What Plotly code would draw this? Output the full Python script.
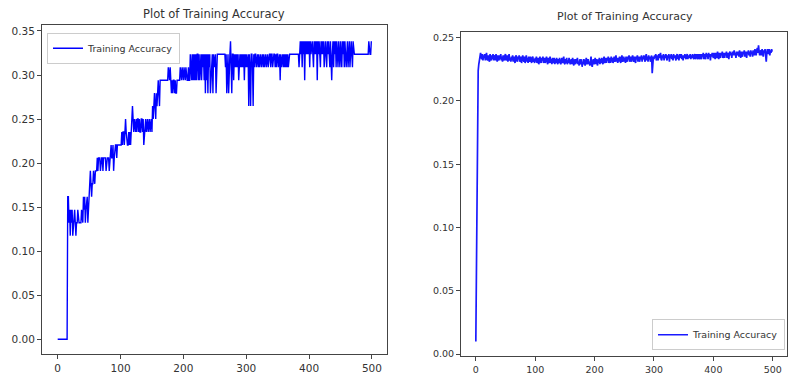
import plotly.graph_objects as go

# Left panel: training accuracy expressed as correct counts out of 68 samples, per epoch (0..499)
left_total = 68
left_counts = [
    0,0,0,0,0,0,0,0,0,0,0,0,0,0,0,0,11,11,9,10,
    8,10,9,10,8,9,10,10,9,8,9,9,10,9,9,9,9,9,10,9,
    9,11,10,11,9,10,11,11,9,10,12,12,13,12,11,12,12,13,12,12,
    13,13,13,14,13,14,14,14,13,14,14,14,13,14,14,14,14,13,14,14,
    14,14,13,14,14,15,14,14,15,13,14,15,15,15,14,15,15,15,15,15,
    15,15,16,15,16,16,15,16,17,16,15,15,15,16,15,16,15,16,16,18,
    17,16,17,16,16,17,16,17,17,16,17,16,16,17,17,16,17,15,16,17,
    17,16,17,17,16,17,17,16,17,17,16,18,17,18,19,18,17,19,18,19,
    20,19,18,20,20,20,20,20,20,20,20,20,20,20,20,20,21,20,20,21,
    20,19,20,19,20,20,19,20,19,19,20,20,20,20,20,21,20,20,21,20,
    20,21,20,20,21,20,20,20,21,20,20,22,20,20,22,20,22,20,22,20,
    22,20,22,22,20,22,20,21,22,20,22,21,22,20,22,19,22,20,22,19,
    22,21,22,19,20,22,22,19,22,21,22,22,19,22,22,22,22,22,22,22,
    22,22,22,22,22,22,22,21,22,19,22,22,19,22,22,23,21,19,22,22,
    20,22,21,22,21,22,21,22,20,21,22,21,22,21,22,21,22,20,22,21,
    22,21,22,22,18,22,21,18,22,22,21,18,22,21,22,22,21,22,22,21,
    22,21,22,22,21,22,22,21,22,21,22,22,21,22,22,21,22,22,22,21,
    22,22,21,22,22,22,21,22,21,22,22,21,22,22,20,22,21,22,22,21,
    22,21,22,21,22,21,22,21,22,22,22,22,22,22,22,22,22,22,22,22,
    22,22,22,22,21,22,23,22,23,21,23,22,23,20,23,22,23,22,23,22,
    23,21,23,22,23,23,22,21,23,22,23,22,23,20,23,22,23,22,21,23,
    22,23,22,23,21,22,23,22,21,23,22,23,22,21,23,22,20,22,23,21,
    23,22,23,21,23,22,21,23,22,21,23,22,21,23,22,23,21,23,22,21,
    22,23,21,22,23,21,22,23,22,21,23,22,22,22,22,22,22,22,22,22,
    22,22,22,22,22,22,22,22,22,22,22,22,22,22,22,23,22,22,22,23,
]
left_acc = [c / left_total for c in left_counts]

# Right panel: training accuracy per epoch (0..499)
right_acc = [
    0.010,0.080,0.150,0.205,0.224,0.229,0.233,0.236,0.238,0.235,0.233,0.237,0.232,0.236,0.234,0.237,0.232,0.235,0.238,0.233,
    0.232,0.236,0.234,0.231,0.237,0.234,0.232,0.236,0.233,0.237,0.232,0.235,0.236,0.232,0.237,0.234,0.231,0.236,0.234,0.232,
    0.236,0.233,0.237,0.232,0.235,0.231,0.236,0.234,0.232,0.236,0.237,0.232,0.234,0.236,0.231,0.235,0.237,0.232,0.234,0.231,
    0.235,0.232,0.236,0.231,0.235,0.233,0.230,0.235,0.236,0.232,0.231,0.235,0.233,0.236,0.231,0.233,0.235,0.230,0.233,0.236,
    0.233,0.231,0.235,0.230,0.233,0.236,0.231,0.234,0.230,0.235,0.233,0.231,0.235,0.233,0.230,0.234,0.235,0.231,0.233,0.230,
    0.234,0.231,0.235,0.230,0.232,0.234,0.229,0.232,0.235,0.231,0.230,0.234,0.232,0.235,0.230,0.232,0.234,0.230,0.232,0.235,
    0.232,0.229,0.234,0.230,0.232,0.235,0.230,0.233,0.229,0.234,0.230,0.232,0.234,0.229,0.233,0.230,0.234,0.232,0.229,0.233,
    0.230,0.234,0.232,0.229,0.231,0.234,0.230,0.232,0.235,0.230,0.229,0.233,0.230,0.234,0.229,0.232,0.230,0.234,0.232,0.229,
    0.231,0.233,0.229,0.234,0.230,0.228,0.233,0.230,0.229,0.233,0.230,0.234,0.229,0.231,0.228,0.233,0.230,0.229,0.233,0.227,
    0.231,0.229,0.233,0.230,0.228,0.231,0.234,0.229,0.231,0.233,0.229,0.231,0.228,0.233,0.235,0.229,0.227,0.231,0.233,0.229,
    0.231,0.234,0.229,0.233,0.230,0.228,0.233,0.230,0.234,0.229,0.233,0.230,0.234,0.232,0.229,0.233,0.235,0.230,0.232,0.234,
    0.230,0.234,0.232,0.235,0.230,0.232,0.234,0.230,0.235,0.231,0.234,0.230,0.232,0.235,0.231,0.233,0.236,0.231,0.234,0.230,
    0.234,0.231,0.235,0.233,0.230,0.234,0.236,0.231,0.233,0.235,0.231,0.234,0.230,0.235,0.233,0.231,0.235,0.233,0.236,0.231,
    0.233,0.235,0.231,0.234,0.236,0.233,0.231,0.235,0.233,0.230,0.235,0.233,0.236,0.231,0.235,0.233,0.231,0.235,0.233,0.236,
    0.231,0.235,0.233,0.236,0.233,0.231,0.235,0.237,0.232,0.235,0.231,0.236,0.233,0.235,0.231,0.233,0.236,0.222,0.231,0.235,
    0.233,0.236,0.234,0.237,0.232,0.235,0.236,0.232,0.237,0.234,0.236,0.238,0.233,0.232,0.236,0.234,0.237,0.232,0.236,0.234,
    0.237,0.233,0.232,0.236,0.234,0.237,0.231,0.236,0.234,0.237,0.233,0.236,0.232,0.237,0.234,0.236,0.233,0.232,0.236,0.237,
    0.233,0.236,0.232,0.237,0.234,0.236,0.237,0.233,0.236,0.232,0.236,0.234,0.237,0.235,0.233,0.236,0.237,0.233,0.236,0.234,
    0.236,0.237,0.233,0.236,0.234,0.237,0.235,0.233,0.236,0.237,0.233,0.236,0.237,0.234,0.233,0.237,0.235,0.233,0.237,0.235,
    0.233,0.237,0.235,0.238,0.233,0.237,0.235,0.233,0.238,0.235,0.237,0.233,0.238,0.235,0.237,0.232,0.237,0.235,0.238,0.236,
    0.234,0.238,0.236,0.233,0.238,0.236,0.234,0.239,0.236,0.233,0.238,0.236,0.234,0.238,0.236,0.239,0.234,0.236,0.238,0.234,
    0.238,0.236,0.239,0.234,0.238,0.236,0.233,0.238,0.239,0.236,0.238,0.234,0.239,0.236,0.238,0.240,0.236,0.238,0.234,0.239,
    0.236,0.239,0.237,0.235,0.240,0.237,0.234,0.239,0.237,0.235,0.239,0.237,0.240,0.235,0.239,0.237,0.234,0.239,0.237,0.240,
    0.236,0.239,0.235,0.240,0.237,0.239,0.235,0.240,0.238,0.236,0.241,0.238,0.236,0.240,0.242,0.238,0.244,0.239,0.236,0.239,
    0.240,0.236,0.241,0.238,0.235,0.240,0.238,0.241,0.236,0.231,0.238,0.241,0.239,0.237,0.241,0.236,0.240,0.238,0.241,0.239,
]

epochs_left = list(range(len(left_acc)))
epochs_right = list(range(len(right_acc)))

title_text = "Plot of Training Accuracy"
series_name = "Training Accuracy"
x_ticks = [0, 100, 200, 300, 400, 500]
left_y_ticks = [0.00, 0.05, 0.10, 0.15, 0.20, 0.25, 0.30, 0.35]
right_y_ticks = [0.00, 0.05, 0.10, 0.15, 0.20, 0.25]

W, H = 789, 385
FONT = "DejaVu Sans"
AXC = "#444444"
TXT = "#333333"

fig = go.Figure()
fig.add_trace(go.Scatter(x=epochs_left, y=left_acc, mode="lines", name=series_name,
                         line=dict(color="#0000ff", width=1.4), xaxis="x", yaxis="y",
                         legend="legend"))
fig.add_trace(go.Scatter(x=epochs_right, y=right_acc, mode="lines", name=series_name,
                         line=dict(color="#1a1aff", width=1.7), xaxis="x2", yaxis="y2",
                         legend="legend2"))

def px_x(p):
    return p / W

def px_y(p):
    return 1 - p / H

def axis_style(size):
    return dict(showgrid=False, zeroline=False, showline=True, mirror=True,
                linecolor=AXC, linewidth=1, ticks="outside", ticklen=4,
                tickcolor=AXC, tickwidth=1, tickfont=dict(family=FONT, size=size, color=TXT))

fig.update_layout(
    width=W, height=H,
    margin=dict(l=0, r=0, t=0, b=0),
    paper_bgcolor="white", plot_bgcolor="white",
    showlegend=True,
    xaxis=dict(domain=[px_x(42), px_x(387)], range=[-24.95, 523.95], tickvals=x_ticks,
               anchor="y", **axis_style(10.5)),
    yaxis=dict(domain=[px_y(357), px_y(25)], range=[-0.017, 0.357], tickvals=left_y_ticks,
               tickformat=".2f", anchor="x", **axis_style(10.5)),
    xaxis2=dict(domain=[px_x(461), px_x(787)], range=[-24.95, 523.95], tickvals=x_ticks,
                anchor="y2", **axis_style(9.5)),
    yaxis2=dict(domain=[px_y(359), px_y(32)], range=[-0.0017, 0.2547], tickvals=right_y_ticks,
                tickformat=".2f", anchor="x2", **axis_style(9.5)),
    legend=dict(x=px_x(47), y=px_y(33), xanchor="left", yanchor="top",
                bgcolor="rgba(255,255,255,0.9)", bordercolor="#cccccc", borderwidth=1,
                font=dict(family=FONT, size=9.5, color=TXT), itemwidth=30,
                tracegroupgap=0),
    legend2=dict(x=px_x(785), y=px_y(353), xanchor="right", yanchor="bottom",
                 bgcolor="rgba(255,255,255,0.9)", bordercolor="#cccccc", borderwidth=1,
                 font=dict(family=FONT, size=9.5, color=TXT), itemwidth=30,
                 tracegroupgap=0),
    annotations=[
        dict(text=title_text, x=px_x(214), y=px_y(14), xref="paper", yref="paper",
             showarrow=False, xanchor="center", yanchor="middle",
             font=dict(family=FONT, size=11.5, color=TXT)),
        dict(text=title_text, x=px_x(625), y=px_y(17), xref="paper", yref="paper",
             showarrow=False, xanchor="center", yanchor="middle",
             font=dict(family=FONT, size=11, color=TXT)),
    ],
)

fig.write_html("out.html", config={"displayModeBar": False},
               post_script="document.body.style.margin='0';")
